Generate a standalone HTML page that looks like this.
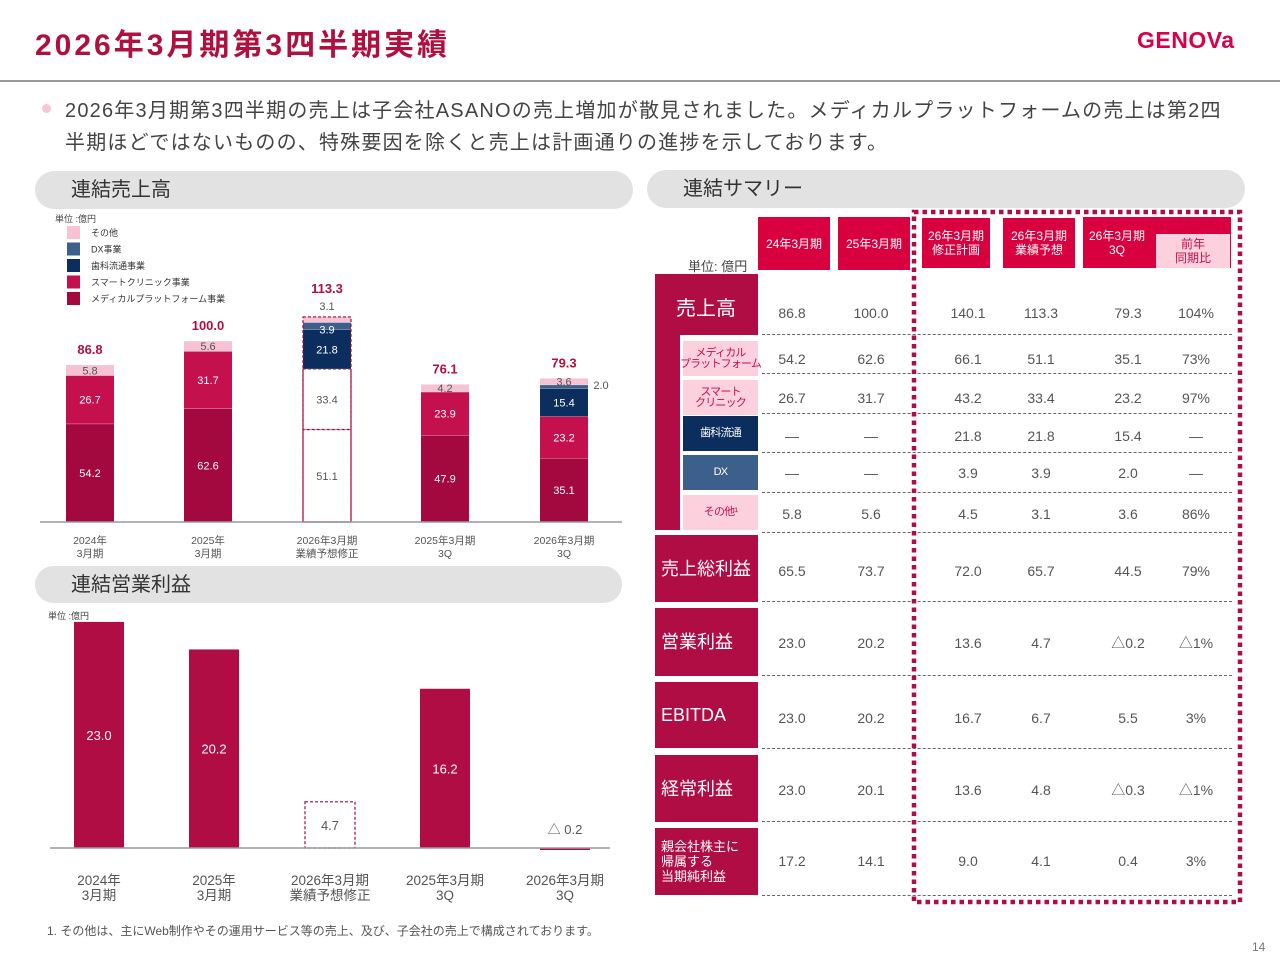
<!DOCTYPE html>
<html><head><meta charset="utf-8">
<style>
*{margin:0;padding:0;box-sizing:border-box}
body{width:1280px;height:960px;background:#fff;position:relative;overflow:hidden;font-family:"Liberation Sans","Noto Sans CJK JP",sans-serif;color:#444}
.a{position:absolute}
.pill{position:absolute;background:#e2e2e2;border-radius:19px;font-size:20px;color:#333;padding-left:36px;line-height:38px}
.hd{position:absolute;background:#d8003f;color:#fff;font-size:12px;text-align:center;line-height:14px;display:flex;align-items:center;justify-content:center}
.lab{position:absolute;background:#b00d45;color:#fff;display:flex;align-items:center;padding-left:6px}
.sub{position:absolute;display:flex;align-items:center;justify-content:center;text-align:center;font-size:11px;line-height:11px;white-space:nowrap;letter-spacing:-0.8px}
.v{position:absolute;font-size:14px;color:#555;transform:translate(-50%,-50%);white-space:nowrap}
.dl{position:absolute;height:0;border-top:1.5px dashed #666}
</style></head><body>
<div class="a" style="left:35px;top:20px;font-size:30px;font-weight:bold;color:#b0103f;letter-spacing:3px">2026年3月期第3四半期実績</div>
<div class="a" style="left:1137px;top:27px;font-size:23px;font-weight:bold;color:#d8004a;letter-spacing:0.5px">GENOVa</div>
<div class="a" style="left:0;top:80px;width:1280px;height:2px;background:#999"></div>
<div class="a" style="left:42px;top:104px;width:9px;height:9px;border-radius:50%;background:#f5c6d4"></div>
<div class="a" style="left:65px;top:95px;font-size:20px;line-height:32px;color:#444;width:1200px;letter-spacing:1.2px;white-space:nowrap">2026年3月期第3四半期の売上は子会社ASANOの売上増加が散見されました。メディカルプラットフォームの売上は第2四<br>半期ほどではないものの、特殊要因を除くと売上は計画通りの進捗を示しております。</div>

<div class="pill" style="left:35px;top:171px;width:598px;height:38px">連結売上高</div>
<div class="pill" style="left:647px;top:170px;width:598px;height:38px">連結サマリー</div>
<div class="pill" style="left:35px;top:566px;width:587px;height:37px">連結営業利益</div>

<svg class="a" id="topchart" style="left:0;top:210px" width="640" height="360"></svg>
<svg class="a" id="botchart" style="left:0;top:605px" width="640" height="300"></svg>

<div class="a" style="left:47px;top:922px;font-size:12px;color:#555">1. その他は、主にWeb制作やその運用サービス等の売上、及び、子会社の売上で構成されております。</div>
<div class="a" style="left:1252px;top:940px;font-size:12px;color:#777">14</div>

<div id="tbl"></div>
<svg class="a" style="left:910px;top:208px" width="336" height="698"><rect x="4" y="4" width="326" height="690" fill="none" stroke="#b00d45" stroke-width="4.5" stroke-dasharray="4.5,4"/></svg>

<script>
const NS='http://www.w3.org/2000/svg';
function mk(p,t,a,txt){const e=document.createElementNS(NS,t);for(const k in a)e.setAttribute(k,a[k]);if(txt!==undefined)e.textContent=txt;p.appendChild(e);return e;}

// ---- sales chart data ----
const salesCats=[['2024年','3月期'],['2025年','3月期'],['2026年3月期','業績予想修正'],['2025年3月期','3Q'],['2026年3月期','3Q']];
const medical=[54.2,62.6,51.1,47.9,35.1];
const smart=[26.7,31.7,33.4,23.9,23.2];
const dental=[0,0,21.8,0,15.4];
const dx=[0,0,3.9,0,2.0];
const other=[5.8,5.6,3.1,4.2,3.6];
const totals=['86.8','100.0','113.3','76.1','79.3'];
const legendNames=['その他','DX事業','歯科流通事業','スマートクリニック事業','メディカルプラットフォーム事業'];
const legendCols=['#f7c3d4','#3d5f8c','#0c2e5e','#c4104c','#a3083f'];

const topSvg=document.getElementById('topchart');
const base1=312, k1=1.81, xs1=[90,208,327,445,564], bw1=48;
const y1=v=>base1-v*k1;
mk(topSvg,'text',{x:55,y:12,'font-size':9,fill:'#444'},'単位 :億円');
legendNames.forEach((n,i)=>{
  const r=mk(topSvg,'rect',{x:67,y:16+i*16.5,width:13,height:13,fill:legendCols[i]});
  
  
  const t=mk(topSvg,'text',{x:91,y:26+i*16.5,'font-size':9,fill:'#333'},n);
  
  
});
const series=[medical,smart,dental,dx,other];
const cols=['#a3083f','#c4104c','#0c2e5e','#3d5f8c','#f7c3d4'];
salesCats.forEach((c,i)=>{
  let acc=0;
  series.forEach((s,j)=>{
    const v=s[i]; if(!v){return;}
    const yt=y1(acc+v), h=v*k1;
    const plan=(i===2&&j<2);
    const r=mk(topSvg,'rect',{x:xs1[i]-bw1/2,y:yt,width:bw1,height:h,fill:plan?'#fff':cols[j]});
    if(plan){r.setAttribute('stroke','#a3083f');r.setAttribute('stroke-dasharray','3,2');r.setAttribute('stroke-width','1.2');}
    
    
    if(j>0&&!plan) mk(topSvg,'line',{x1:xs1[i]-bw1/2,x2:xs1[i]+bw1/2,y1:yt+h,y2:yt+h,stroke:'#fff','stroke-width':0.6,opacity:0.4});
    let lx=xs1[i], ly=yt+h/2+4, fill=(j===4||plan)?'#555':'#fff';
    if(j===4&&i===2){ly=yt-7;}
    if(j===3&&i===2){ly=yt+11;}
    if(j===3&&i===4){lx=xs1[i]+bw1/2+13;ly=yt+h/2+2;fill='#555';}
    const t=mk(topSvg,'text',{x:lx,y:ly,'font-size':11,fill:fill,'text-anchor':'middle'},v.toFixed(1));
    
    
    acc+=v;
  });
  if(i===2){mk(topSvg,'rect',{x:xs1[i]-bw1/2,y:y1(acc),width:bw1,height:acc*k1,fill:'none',stroke:'#a3083f','stroke-dasharray':'3,2','stroke-width':1.2});}
  const tl=mk(topSvg,'text',{x:xs1[i],y:y1(acc)-(i===2?24:11),'font-size':13,'font-weight':'bold',fill:'#b0103f','text-anchor':'middle'},totals[i]);
  
  
  c.forEach((l,m)=>{const t=mk(topSvg,'text',{x:xs1[i],y:base1+22+m*13,'font-size':10.5,fill:'#555','text-anchor':'middle'},l);
    
    });
});
mk(topSvg,'line',{x1:40,x2:622,y1:base1,y2:base1,stroke:'#999','stroke-width':1.5});

// ---- operating profit chart ----
const opCats=[['2024年','3月期'],['2025年','3月期'],['2026年3月期','業績予想修正'],['2025年3月期','3Q'],['2026年3月期','3Q']];
const opVals=[23.0,20.2,4.7,16.2,-0.2];
const opLabels=['23.0','20.2','4.7','16.2','△ 0.2'];
const botSvg=document.getElementById('botchart');
const base2=243, k2=9.83, xs2=[99,214,330,445,565], bw2=50;
mk(botSvg,'text',{x:48,y:14,'font-size':9,fill:'#444'},'単位 :億円');
opVals.forEach((v,i)=>{
  const plan=i===2;
  const yt=v>=0?base2-v*k2:base2, h=Math.max(Math.abs(v)*k2,2);
  const r=mk(botSvg,'rect',{x:xs2[i]-bw2/2,y:yt,width:bw2,height:h,fill:plan?'#fff':'#b00d45'});
  if(plan){r.setAttribute('stroke','#a3083f');r.setAttribute('stroke-dasharray','3,2');r.setAttribute('stroke-width','1.2');}
  
  
  let ly=yt+h/2+5, fill='#fff';
  if(plan){fill='#555';}
  if(v<0){ly=base2-14;fill='#555';}
  const t=mk(botSvg,'text',{x:xs2[i],y:ly,'font-size':13,fill:fill,'text-anchor':'middle'},opLabels[i]);
  
  
  opCats[i].forEach((l,m)=>{const t2=mk(botSvg,'text',{x:xs2[i],y:base2+37+m*15,'font-size':13.5,fill:'#555','text-anchor':'middle'},l);
    
    });
});
mk(botSvg,'line',{x1:50,x2:610,y1:base2,y2:base2,stroke:'#999','stroke-width':1.5});

// ---- table ----
const tbl=document.getElementById('tbl');
function div(cls,style,html,name){const d=document.createElement('div');d.className=cls;d.style.cssText=style;d.innerHTML=html;


tbl.appendChild(d);return d;}
div('a','left:688px;top:256px;font-size:13px;color:#444','単位: 億円','unit-label');
div('hd','left:758px;top:217px;width:72px;height:53px','24年3月期','col-header');
div('hd','left:838px;top:217px;width:72px;height:53px','25年3月期','col-header');
div('hd','left:922px;top:218px;width:68px;height:50px','26年3月期<br>修正計画','col-header');
div('hd','left:1003px;top:218px;width:72px;height:50px','26年3月期<br>業績予想','col-header');
div('hd','left:1083px;top:217px;width:148px;height:51px;justify-content:flex-start;padding-left:6px','26年3月期<br>3Q','col-header');
div('hd','left:1156px;top:234px;width:74px;height:34px;background:#fcd0dc;color:#c4104c','前年<br>同期比','col-header-yoy');
div('a','left:655px;top:274px;width:103px;height:256px;background:#b00d45','','sales-label-block');
div('a','left:680px;top:335px;width:80px;height:195px;background:#fff','','sales-sub-bg');
div('a','left:676px;top:292px;font-size:20px;color:#fff','売上高','sales-label');
const subs=[['メディカル<br>プラットフォーム','#fcd0dc','#c4104c',359],['スマート<br>クリニック','#fcd0dc','#c4104c',398],['歯科流通','#0c2e5e','#fff',434],['DX','#3d5f8c','#fff',473],['その他¹','#fcd0dc','#c4104c',513]];
subs.forEach(s=>div('sub',`left:683px;top:${s[3]-18}px;width:75px;height:35px;background:${s[1]};color:${s[2]}`,s[0],'segment-row-label'));
const bigs=[['売上総利益',535,67,18],['営業利益',608,68,18],['EBITDA',682,66,18],['経常利益',755,67,18],['親会社株主に<br>帰属する<br>当期純利益',828,67,13]];
bigs.forEach(b=>div('lab',`left:655px;top:${b[1]}px;width:103px;height:${b[2]}px;font-size:${b[3]}px;line-height:${b[3]+2}px`,b[0],'metric-label'));
const colX=[792,871,968,1041,1128,1196];
const rowY=[313,359,398,436,473,514,571,643,718,790,861];
const rowNames=['sales','medical','smart','dental','dx','other','gross','op','ebitda','ordinary','net'];
const colFy24=['86.8','54.2','26.7','—','—','5.8','65.5','23.0','23.0','23.0','17.2'];
const colFy25=['100.0','62.6','31.7','—','—','5.6','73.7','20.2','20.2','20.1','14.1'];
const colPlan=['140.1','66.1','43.2','21.8','3.9','4.5','72.0','13.6','16.7','13.6','9.0'];
const colFcst=['113.3','51.1','33.4','21.8','3.9','3.1','65.7','4.7','6.7','4.8','4.1'];
const col3Q=['79.3','35.1','23.2','15.4','2.0','3.6','44.5','△0.2','5.5','△0.3','0.4'];
const colYoy=['104%','73%','97%','—','—','86%','79%','△1%','3%','△1%','3%'];
[colFy24,colFy25,colPlan,colFcst,col3Q,colYoy].forEach((c,ci)=>c.forEach((v,ri)=>div('v',`left:${colX[ci]}px;top:${rowY[ri]}px`,v,'cell-'+rowNames[ri])));
[334,373,413,452,492,532,601,675,748,821,895].forEach(y=>div('dl',`left:762px;top:${y}px;width:470px`,'','row-divider'));
</script>
</body></html>
